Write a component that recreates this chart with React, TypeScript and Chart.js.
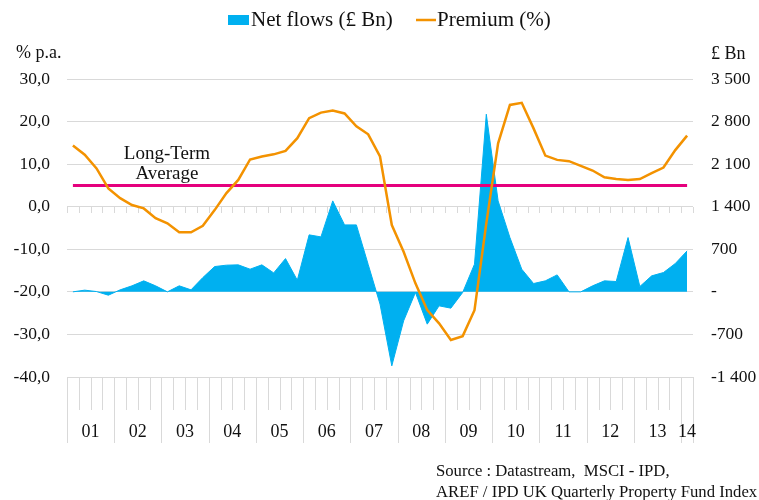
import React, { useEffect, useRef } from 'react';
import { Chart, registerables } from 'chart.js';

Chart.register(...registerables);

// ---- Data ----
const yearLabels = ['01', '02', '03', '04', '05', '06', '07', '08', '09', '10', '11', '12', '13', '14'];
const quartersPerYear = [4, 4, 4, 4, 4, 4, 4, 4, 4, 4, 4, 4, 4, 1];

const premium = [
  14.4, 12.2, 9.0, 4.3, 2.0, 0.4, -0.4, -2.7, -3.9, -6.0,
  -6.0, -4.5, -0.8, 3.2, 6.3, 11.1, 11.8, 12.3, 13.1, 16.1,
  20.8, 22.1, 22.6, 21.9, 18.9, 17.0, 11.8, -4.3, -10.6, -18.0,
  -24.3, -27.4, -31.3, -30.4, -24.3, -3.9, 14.9, 23.9, 24.4, 18.4,
  12.0, 11.0, 10.7, 9.6, 8.5, 6.9, 6.5, 6.3, 6.5, 7.9,
  9.2, 13.3, 16.7,
];

const netFlows = [
  0, 28, 5, -55, 33, 99, 181, 99, 0, 99,
  33, 235, 416, 439, 444, 373, 444, 312, 547, 192,
  937, 904, 1496, 1101, 1101, 450, -200, -1217, -477, -10,
  -531, -230, -268, -10, 455, 2921, 1496, 893, 373, 137,
  181, 279, 0, 0, 99, 181, 170, 893, 88, 263,
  318, 466, 674,
];

const longTermAverage = 5;

const legendLabels = ['Net flows (£ Bn)', 'Premium (%)'];
const leftAxisTitle = '% p.a.';
const rightAxisTitle = '£ Bn';
const averageLabel = ['Long-Term', 'Average'];
const sourceLines = ['Source : Datastream,  MSCI - IPD,', 'AREF / IPD UK Quarterly Property Fund Index'];

// categories built from the year table
const categories: string[] = [];
yearLabels.forEach((yr, i) => {
  for (let q = 1; q <= quartersPerYear[i]; q++) categories.push(`${yr} Q${q}`);
});

const FONT = '"Liberation Serif", "Times New Roman", serif';
const TEXT = '#111111';
const GRID = '#D9D9D9';
const BLUE = '#00B0F0';
const ORANGE = '#F39200';
const MAGENTA = '#E5007D';

function fmtLeft(v: number) {
  return v.toFixed(1).replace('.', ',');
}
function fmtRight(v: number) {
  if (v === 0) return '-';
  const sign = v < 0 ? '-' : '';
  const a = Math.abs(v);
  if (a >= 1000) return `${sign}${Math.floor(a / 1000)} ${String(a % 1000).padStart(3, '0')}`;
  return `${sign}${a}`;
}

const decorPlugin = {
  id: 'decor',
  beforeDatasetsDraw(chart: any) {
    const { ctx, scales } = chart;
    const x = scales.x;
    const y = scales.y;
    const n = categories.length;
    const half = (x.getPixelForValue(1) - x.getPixelForValue(0)) / 2;
    const bx = (i: number) => (i < n ? x.getPixelForValue(i) - half : x.getPixelForValue(n - 1) + half);
    const y0 = Math.round(y.getPixelForValue(0));
    ctx.save();
    ctx.strokeStyle = GRID;
    ctx.lineWidth = 1;
    ctx.beginPath();
    for (let i = 0; i <= n; i++) {
      const px = Math.round(bx(i)) + 0.5;
      ctx.moveTo(px, y0);
      ctx.lineTo(px, y0 + 6);
    }
    ctx.stroke();
    ctx.restore();
  },
  afterDraw(chart: any) {
    const { ctx, scales, chartArea } = chart;
    const x = scales.x;
    const n = categories.length;
    const half = (x.getPixelForValue(1) - x.getPixelForValue(0)) / 2;
    const bx = (i: number) => (i < n ? x.getPixelForValue(i) - half : x.getPixelForValue(n - 1) + half);
    const bottom = chartArea.bottom;

    ctx.save();
    // bottom category ticks and year separators
    const yearStarts: number[] = [];
    let acc = 0;
    quartersPerYear.forEach((q) => {
      yearStarts.push(acc);
      acc += q;
    });
    yearStarts.push(acc);
    ctx.strokeStyle = GRID;
    ctx.lineWidth = 1;
    ctx.beginPath();
    for (let i = 0; i <= n; i++) {
      const px = Math.round(bx(i)) + 0.5;
      const isYear = yearStarts.includes(i);
      ctx.moveTo(px, bottom);
      ctx.lineTo(px, isYear ? bottom + 66 : bottom + 33);
    }
    ctx.stroke();

    // year labels
    ctx.fillStyle = TEXT;
    ctx.font = `18px ${FONT}`;
    ctx.textAlign = 'center';
    ctx.textBaseline = 'alphabetic';
    yearLabels.forEach((lab, k) => {
      const cx = (bx(yearStarts[k]) + bx(yearStarts[k + 1])) / 2;
      ctx.fillText(lab, cx, bottom + 60);
    });

    // Long-term average label
    ctx.font = `19px ${FONT}`;
    ctx.textAlign = 'center';
    ctx.fillText(averageLabel[0], 167, 159);
    ctx.fillText(averageLabel[1], 167, 179);

    // axis titles
    ctx.font = `18px ${FONT}`;
    ctx.textAlign = 'left';
    ctx.fillText(leftAxisTitle, 16, 58);
    ctx.fillText(rightAxisTitle, 711, 59);

    // legend
    ctx.fillStyle = BLUE;
    ctx.fillRect(228, 15, 21, 10);
    ctx.strokeStyle = ORANGE;
    ctx.lineWidth = 2.5;
    ctx.beginPath();
    ctx.moveTo(416, 20);
    ctx.lineTo(436, 20);
    ctx.stroke();
    ctx.fillStyle = TEXT;
    ctx.font = `21px ${FONT}`;
    ctx.fillText(legendLabels[0], 251, 26);
    ctx.fillText(legendLabels[1], 437, 26);

    // source
    ctx.font = `16.7px ${FONT}`;
    ctx.fillText(sourceLines[0], 436, 476);
    ctx.fillText(sourceLines[1], 436, 497);
    ctx.restore();
  },
};

export default function App() {
  const ref = useRef<HTMLCanvasElement>(null);

  useEffect(() => {
    if (!ref.current) return;
    const chart = new Chart(ref.current, {
      type: 'line',
      data: {
        labels: categories,
        datasets: [
          {
            label: legendLabels[1],
            data: premium,
            borderColor: ORANGE,
            borderWidth: 2.5,
            pointRadius: 0,
            tension: 0,
            fill: false,
            yAxisID: 'y',
          },
          {
            label: 'Long-Term Average',
            data: categories.map(() => longTermAverage),
            borderColor: MAGENTA,
            borderWidth: 3,
            pointRadius: 0,
            fill: false,
            yAxisID: 'y',
          },
          {
            label: legendLabels[0],
            data: netFlows,
            borderColor: BLUE,
            borderWidth: 1,
            backgroundColor: BLUE,
            pointRadius: 0,
            tension: 0,
            fill: 'origin',
            yAxisID: 'y1',
          },
        ],
      },
      options: {
        animation: false,
        responsive: false,
        maintainAspectRatio: false,
        layout: { padding: { top: 79, bottom: 123, left: 0, right: 0 } },
        plugins: {
          legend: { display: false },
          tooltip: { enabled: false },
        },
        scales: {
          x: { display: false, offset: true },
          y: {
            position: 'left',
            min: -40,
            max: 30,
            ticks: {
              stepSize: 10,
              callback: (v: any) => fmtLeft(Number(v)),
              font: { family: FONT, size: 17.5 },
              color: TEXT,
              padding: 17,
            },
            grid: { color: GRID, lineWidth: 1, drawTicks: false },
            border: { display: false },
            afterFit: (s: any) => {
              s.width = 67;
            },
          },
          y1: {
            position: 'right',
            min: -1400,
            max: 3500,
            ticks: {
              stepSize: 700,
              callback: (v: any) => fmtRight(Number(v)),
              font: { family: FONT, size: 17.5 },
              color: TEXT,
              padding: 18,
            },
            grid: { display: false, drawTicks: false },
            border: { display: false },
            afterFit: (s: any) => {
              s.width = 66;
            },
          },
        },
      },
      plugins: [decorPlugin],
    } as any);
    return () => chart.destroy();
  }, []);

  return (
    <div style={{ position: 'fixed', left: 0, top: 0, width: 759, height: 500, background: '#fff' }}>
      <canvas ref={ref} width={759} height={500} style={{ display: 'block', width: 759, height: 500 }} />
    </div>
  );
}
